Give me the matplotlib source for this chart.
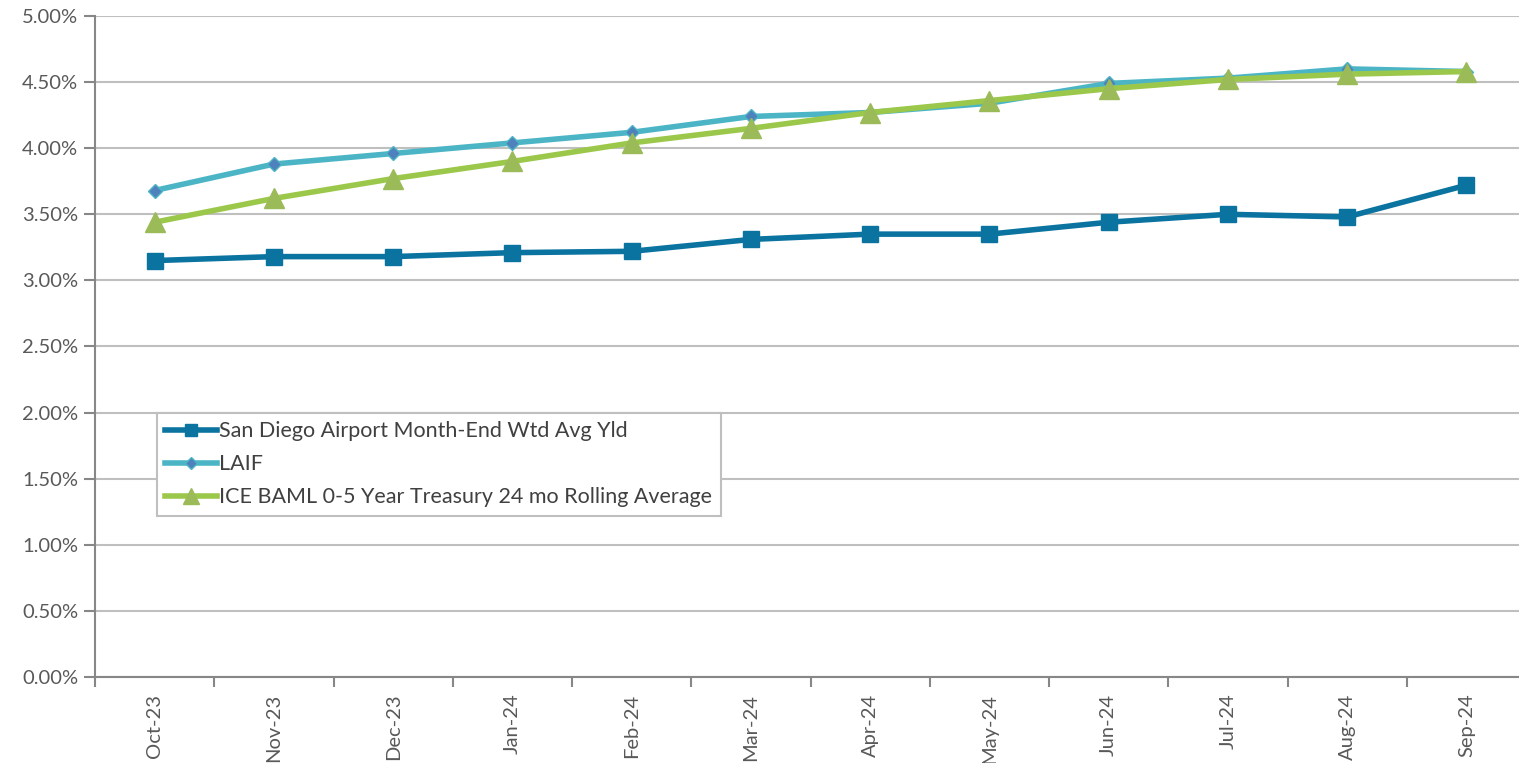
import matplotlib.pyplot as plt
from matplotlib.ticker import FuncFormatter, FixedLocator
import numpy as np

months = ["Oct-23", "Nov-23", "Dec-23", "Jan-24", "Feb-24", "Mar-24",
          "Apr-24", "May-24", "Jun-24", "Jul-24", "Aug-24", "Sep-24"]

san_diego = [3.15, 3.18, 3.18, 3.21, 3.22, 3.31, 3.35, 3.35, 3.44, 3.50, 3.48, 3.72]
laif = [3.68, 3.88, 3.96, 4.04, 4.12, 4.24, 4.27, 4.34, 4.49, 4.53, 4.60, 4.58]
ice_baml = [3.44, 3.62, 3.77, 3.90, 4.04, 4.15, 4.27, 4.36, 4.45, 4.52, 4.56, 4.58]

plt.rcParams['font.family'] = ['Lato', 'DejaVu Sans']

fig = plt.figure(figsize=(15.19, 7.63), dpi=100)
ax = fig.add_axes([95 / 1519, 1 - 677 / 763, 1431 / 1519, 661 / 763])

x = np.arange(len(months))
ax.plot(x, san_diego, color='#0A73A0', lw=4, marker='s', ms=11,
        mfc='#0A73A0', mec='#0A73A0', label="San Diego Airport Month-End Wtd Avg Yld", zorder=3)
ax.plot(x, laif, color='#4BB5C6', lw=4, marker='D', ms=7,
        mfc='#4F81BD', mec='#4BB5C6', mew=1, label="LAIF", zorder=4)
ax.plot(x, ice_baml, color='#9BC84A', lw=4, marker='^', ms=14,
        mfc='#9BBB59', mec='#9BBB59', label="ICE BAML 0-5 Year Treasury 24 mo Rolling Average", zorder=5)

ax.set_xlim(-0.5, len(months) - 0.5)
ax.set_ylim(0, 5)
ax.set_yticks(np.arange(0, 5.01, 0.5))
ax.yaxis.set_major_formatter(FuncFormatter(lambda v, p: f"{v:.2f}%"))
ax.grid(axis='y', color='#BFBFBF', lw=1.5)
ax.set_axisbelow(True)

ax.set_xticks(x)
ax.set_xticklabels(months, rotation=90)
ax.xaxis.set_minor_locator(FixedLocator(np.arange(-0.5, len(months), 1)))
ax.tick_params(axis='x', which='major', length=0, pad=12)
ax.tick_params(axis='x', which='minor', length=7, width=1.5, color='#878787')
ax.tick_params(axis='y', length=8, width=1.5, color='#878787', pad=4)
ax.tick_params(labelsize=14.5, labelcolor='#595959')

for s in ['top', 'right']:
    ax.spines[s].set_visible(False)
for s in ['left', 'bottom']:
    ax.spines[s].set_color('#878787')
    ax.spines[s].set_linewidth(1.5)

leg = ax.legend(loc='upper left', bbox_to_anchor=(51 / 1431, 275 / 661), fontsize=15.5,
                frameon=True, fancybox=False, edgecolor='#BFBFBF', framealpha=1,
                handlelength=2.4, handletextpad=0.1, labelspacing=0.6, borderpad=0.4,
                labelcolor='#404040', markerscale=0.85)
leg.get_frame().set_linewidth(1.5)

fig.savefig("out.png", dpi=100)
